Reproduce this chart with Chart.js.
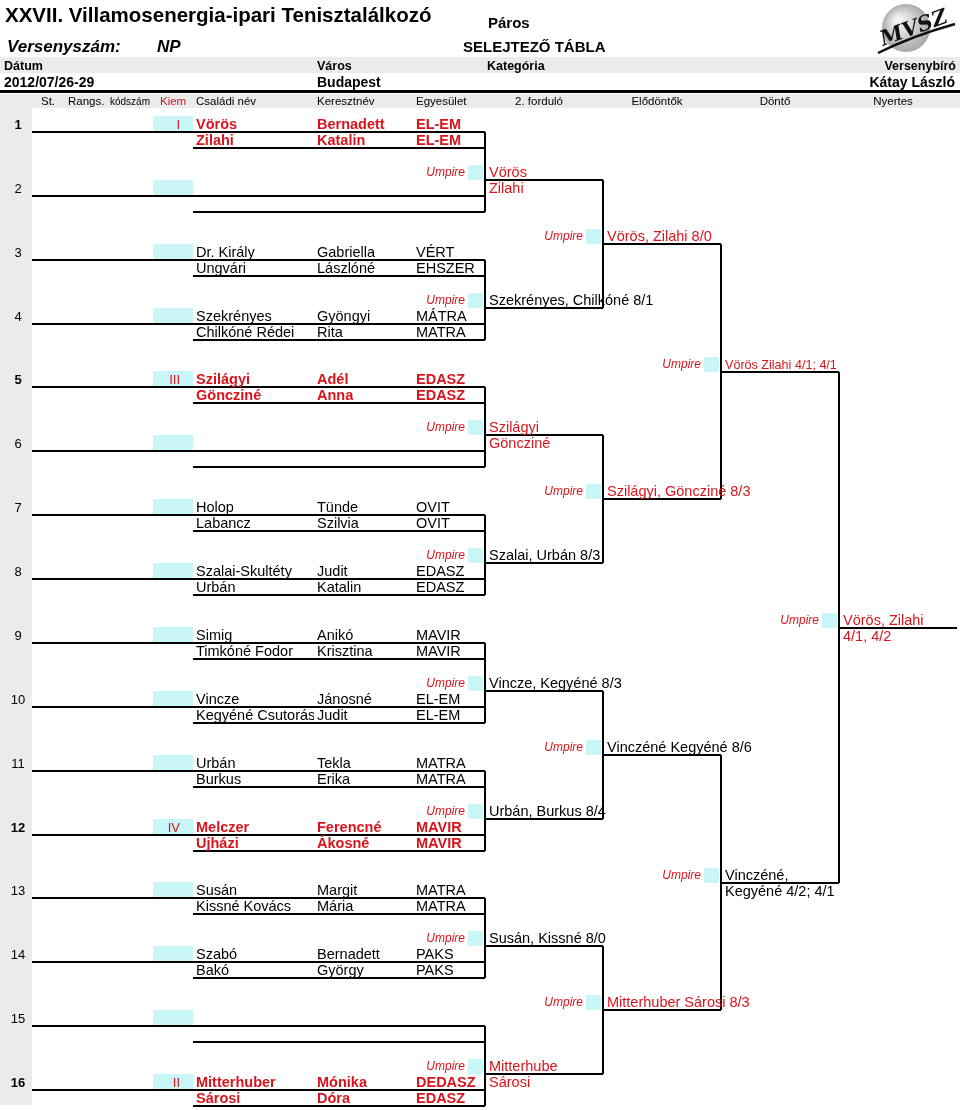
<!DOCTYPE html>
<html>
<head>
<meta charset="utf-8">
<title>Páros – Selejtező tábla</title>
<script src="https://cdn.jsdelivr.net/npm/chart.js@4.4.1/dist/chart.umd.min.js"></script>
<style>
    html, body { margin: 0; padding: 0; background: #fff; }
    #wrap { width: 960px; height: 1110px; }
</style>
</head>
<body>
<div id="wrap"><canvas id="bracket" width="960" height="1110"></canvas></div>
<script>
// --- Sheet data ---
const titleText = 'XXVII. Villamosenergia-ipari Tenisztalálkozó';
const eventLabel = 'Versenyszám:';
const eventName = 'NP';
const drawType = 'Páros';
const drawTitle = 'SELEJTEZŐ TÁBLA';
const infoLabels = ['Dátum', 'Város', 'Kategória', 'Versenybíró'];
const infoValues = ['2012/07/26-29', 'Budapest', '', 'Kátay László'];
const columnLabels = ['St.', 'Rangs.', 'kódszám', 'Kiem', 'Családi név', 'Keresztnév', 'Egyesület'];
const roundTitles = ['2. forduló', 'Elődöntők', 'Döntő', 'Nyertes'];

// --- Draw entries (one pair per line) ---
const slotNumbers = [1, 2, 3, 4, 5, 6, 7, 8, 9, 10, 11, 12, 13, 14, 15, 16];
const seeds = ['I', '', '', '', 'III', '', '', '', '', '', '', 'IV', '', '', '', 'II'];
const familyNames = [
    ['Vörös', 'Zilahi'], ['', ''], ['Dr. Király', 'Ungvári'], ['Szekrényes', 'Chilkóné Rédei'],
    ['Szilágyi', 'Göncziné'], ['', ''], ['Holop', 'Labancz'], ['Szalai-Skultéty', 'Urbán'],
    ['Simig', 'Timkóné Fodor'], ['Vincze', 'Kegyéné Csutorás'], ['Urbán', 'Burkus'], ['Melczer', 'Ujházi'],
    ['Susán', 'Kissné Kovács'], ['Szabó', 'Bakó'], ['', ''], ['Mitterhuber', 'Sárosi']
];
const givenNames = [
    ['Bernadett', 'Katalin'], ['', ''], ['Gabriella', 'Lászlóné'], ['Gyöngyi', 'Rita'],
    ['Adél', 'Anna'], ['', ''], ['Tünde', 'Szilvia'], ['Judit', 'Katalin'],
    ['Anikó', 'Krisztina'], ['Jánosné', 'Judit'], ['Tekla', 'Erika'], ['Ferencné', 'Ákosné'],
    ['Margit', 'Mária'], ['Bernadett', 'György'], ['', ''], ['Mónika', 'Dóra']
];
const clubs = [
    ['EL-EM', 'EL-EM'], ['', ''], ['VÉRT', 'EHSZER'], ['MÁTRA', 'MATRA'],
    ['EDASZ', 'EDASZ'], ['', ''], ['OVIT', 'OVIT'], ['EDASZ', 'EDASZ'],
    ['MAVIR', 'MAVIR'], ['EL-EM', 'EL-EM'], ['MATRA', 'MATRA'], ['MAVIR', 'MAVIR'],
    ['MATRA', 'MATRA'], ['PAKS', 'PAKS'], ['', ''], ['DEDASZ', 'EDASZ']
];

// --- Results per column (text lines) and the winning slot of each match ---
const secondRoundResults = [
    ['Vörös', 'Zilahi'], ['Szekrényes, Chilkóné 8/1'], ['Szilágyi', 'Göncziné'], ['Szalai, Urbán 8/3'],
    ['Vincze, Kegyéné 8/3'], ['Urbán, Burkus 8/4'], ['Susán, Kissné 8/0'], ['Mitterhube', 'Sárosi']
];
const secondRoundWinners = [1, 4, 5, 8, 10, 11, 13, 16];
const semiFinalResults = [
    ['Vörös, Zilahi 8/0'], ['Szilágyi, Göncziné 8/3'], ['Vinczéné Kegyéné 8/6'], ['Mitterhuber Sárosi 8/3']
];
const semiFinalWinners = [1, 5, 10, 16];
const finalResults = [['Vörös Zilahi 4/1; 4/1'], ['Vinczéné,', 'Kegyéné 4/2; 4/1']];
const finalWinners = [1, 10];
const championResults = [['Vörös, Zilahi', '4/1, 4/2']];
const championWinners = [1];

const roundResults = [secondRoundResults, semiFinalResults, finalResults, championResults];
const roundWinners = [secondRoundWinners, semiFinalWinners, finalWinners, championWinners];

// --- Layout ---
const GREY = '#ebebeb';
const CYAN = '#c9f6f9';
const RED = '#d8141c';
const INK = '#000';
const FONT = '"Liberation Sans", Arial, Helvetica, sans-serif';

const lineLeft = 32;
const lineBLeft = 193;
const roundX = [485, 603, 721, 839, 957];
const rowGap = 16;
const col = { num: 18, seedRight: 180, seedBox: 153, family: 196, given: 317, club: 416 };

function slotY(i) {
    return Math.round(132 + 63.87 * i);
}

// y of each match output line, per round
const outY = [];
let prev = [];
for (let m = 0; m < slotNumbers.length / 2; m++) {
    prev.push(Math.round((slotY(2 * m) + slotY(2 * m + 1)) / 2) + rowGap);
}
outY.push(prev);
for (let r = 1; r < roundResults.length; r++) {
    const cur = [];
    for (let m = 0; m < prev.length / 2; m++) {
        cur.push(Math.round((prev[2 * m] + prev[2 * m + 1]) / 2));
    }
    outY.push(cur);
    prev = cur;
}

// Bracket line segments
const segments = [];
function seg(x1, y1, x2, y2) {
    segments.push([{ x: x1, y: y1 }, { x: x2, y: y2 }]);
}
slotNumbers.forEach((n, i) => {
    const y = slotY(i);
    seg(lineLeft, y, roundX[0], y);
    seg(lineBLeft, y + rowGap, roundX[0], y + rowGap);
});
for (let m = 0; m < slotNumbers.length / 2; m++) {
    seg(roundX[0], slotY(2 * m), roundX[0], slotY(2 * m + 1) + rowGap);
}
outY.forEach((ys, r) => {
    ys.forEach(y => seg(roundX[r], y, roundX[r + 1], y));
    if (r > 0) {
        ys.forEach((y, m) => seg(roundX[r], outY[r - 1][2 * m], roundX[r], outY[r - 1][2 * m + 1]));
    }
});

const datasets = segments.map(points => ({
    data: points,
    showLine: true,
    borderColor: INK,
    borderWidth: 2,
    pointRadius: 0,
    fill: false,
    clip: false
}));

function isSeeded(slot) {
    return seeds[slot - 1] !== '';
}

function drawLogo(ctx) {
    const cx = 906, cy = 28;
    const g = ctx.createRadialGradient(cx - 8, cy - 8, 3, cx, cy, 25);
    g.addColorStop(0, '#f4f4f4');
    g.addColorStop(1, '#a6a6a6');
    ctx.fillStyle = g;
    ctx.beginPath();
    ctx.arc(cx, cy, 24, 0, Math.PI * 2);
    ctx.fill();
    ctx.save();
    ctx.translate(cx + 10, cy + 6);
    ctx.rotate(-0.35);
    ctx.font = 'italic bold 21px "DejaVu Serif", serif';
    ctx.fillStyle = '#111';
    ctx.textAlign = 'center';
    ctx.fillText('MVSZ', 0, 0);
    ctx.restore();
    ctx.strokeStyle = '#111';
    ctx.lineWidth = 2.5;
    ctx.beginPath();
    ctx.moveTo(878, 53);
    ctx.quadraticCurveTo(912, 36, 955, 24);
    ctx.stroke();
}

const sheetPlugin = {
    id: 'sheet',
    beforeDatasetsDraw(chart) {
        const ctx = chart.ctx;
        const px = v => chart.scales.x.getPixelForValue(v);
        const py = v => chart.scales.y.getPixelForValue(v);
        ctx.save();
        ctx.fillStyle = GREY;
        ctx.fillRect(0, 57, 960, 16);
        ctx.fillRect(0, 94, 960, 14);
        ctx.fillRect(0, 108, lineLeft, 997);

        ctx.fillStyle = CYAN;
        slotNumbers.forEach((n, i) => {
            ctx.fillRect(px(col.seedBox), py(slotY(i) - rowGap), lineBLeft - col.seedBox, 15);
        });
        outY.forEach((ys, r) => {
            ys.forEach(y => ctx.fillRect(px(roundX[r] - 17), py(y - 15), 15, 15));
        });
        ctx.restore();
    },
    afterDatasetsDraw(chart) {
        const ctx = chart.ctx;
        const px = v => chart.scales.x.getPixelForValue(v);
        const py = v => chart.scales.y.getPixelForValue(v);
        ctx.save();
        ctx.textBaseline = 'alphabetic';

        // Header
        ctx.fillStyle = INK;
        ctx.textAlign = 'left';
        ctx.font = 'bold 20.5px ' + FONT;
        ctx.fillText(titleText, 5, 22);
        ctx.font = 'italic bold 17px ' + FONT;
        ctx.fillText(eventLabel, 7, 52);
        ctx.fillText(eventName, 157, 52);
        ctx.font = 'bold 15px ' + FONT;
        ctx.fillText(drawType, 488, 28);
        ctx.fillText(drawTitle, 463, 52);

        ctx.font = 'bold 12.5px ' + FONT;
        const infoX = [4, 317, 487];
        infoLabels.forEach((t, i) => {
            if (i < 3) ctx.fillText(t, infoX[i], 70);
        });
        ctx.textAlign = 'right';
        ctx.fillText(infoLabels[3], 956, 70);
        ctx.font = 'bold 14px ' + FONT;
        ctx.fillText(infoValues[3], 955, 87);
        ctx.textAlign = 'left';
        ctx.fillText(infoValues[0], 4, 87);
        ctx.fillText(infoValues[1], 317, 87);

        ctx.fillRect(0, 90, 960, 3);

        // Column headings
        const headX = [41, 68, 110, 160, col.family, col.given, col.club];
        columnLabels.forEach((t, i) => {
            ctx.font = (i === 2 ? '10px ' : '11.5px ') + FONT;
            ctx.fillStyle = i === 3 ? RED : INK;
            ctx.fillText(t, headX[i], 105);
        });
        ctx.fillStyle = INK;
        ctx.textAlign = 'center';
        ctx.font = '11.5px ' + FONT;
        roundTitles.forEach((t, r) => ctx.fillText(t, roundX[r] + 54, 105));

        drawLogo(ctx);

        // Entries
        slotNumbers.forEach((n, i) => {
            const yA = py(slotY(i));
            const yB = py(slotY(i) + rowGap);
            const seeded = seeds[i] !== '';
            ctx.textAlign = 'center';
            ctx.fillStyle = INK;
            ctx.font = (seeded ? 'bold ' : '') + '13px ' + FONT;
            ctx.fillText(String(n), px(col.num), yA - 3);

            ctx.fillStyle = seeded ? RED : INK;
            ctx.textAlign = 'right';
            ctx.font = '13px ' + FONT;
            if (seeded) ctx.fillText(seeds[i], px(col.seedRight), yA - 3);

            ctx.textAlign = 'left';
            ctx.font = (seeded ? 'bold ' : '') + '14.5px ' + FONT;
            [yA, yB].forEach((y, k) => {
                ctx.save();
                ctx.beginPath();
                ctx.rect(px(col.family), y - 18, col.given - col.family - 3, 20);
                ctx.clip();
                ctx.fillText(familyNames[i][k], px(col.family), y - 3);
                ctx.restore();
                ctx.fillText(givenNames[i][k], px(col.given), y - 3);
                ctx.fillText(clubs[i][k], px(col.club), y - 3);
            });
        });

        // Umpire labels and results
        roundResults.forEach((results, r) => {
            results.forEach((lines, m) => {
                const y = py(outY[r][m]);
                ctx.textAlign = 'right';
                ctx.fillStyle = RED;
                ctx.font = 'italic 12px ' + FONT;
                ctx.fillText('Umpire', px(roundX[r] - 20), y - 4);

                ctx.textAlign = 'left';
                ctx.fillStyle = isSeeded(roundWinners[r][m]) ? RED : INK;
                lines.forEach((t, k) => {
                    let size = 14.5;
                    ctx.font = size + 'px ' + FONT;
                    if (r === 2 && lines.length === 1) {
                        const room = roundX[r + 1] - roundX[r] - 6;
                        const w = ctx.measureText(t).width;
                        if (w > room) size = size * room / w;
                        ctx.font = size + 'px ' + FONT;
                    }
                    ctx.fillText(t, px(roundX[r] + 4), y + (k === 0 ? -3 : 13));
                });
            });
        });
        ctx.restore();
    }
};

new Chart(document.getElementById('bracket').getContext('2d'), {
    type: 'scatter',
    data: { datasets: datasets },
    options: {
        responsive: false,
        animation: false,
        devicePixelRatio: 1,
        events: [],
        layout: { padding: 0 },
        scales: {
            x: { type: 'linear', min: 0, max: 960, display: false },
            y: { type: 'linear', min: 0, max: 1110, reverse: true, display: false }
        },
        plugins: {
            legend: { display: false },
            tooltip: { enabled: false }
        }
    },
    plugins: [sheetPlugin]
});
</script>
</body>
</html>
